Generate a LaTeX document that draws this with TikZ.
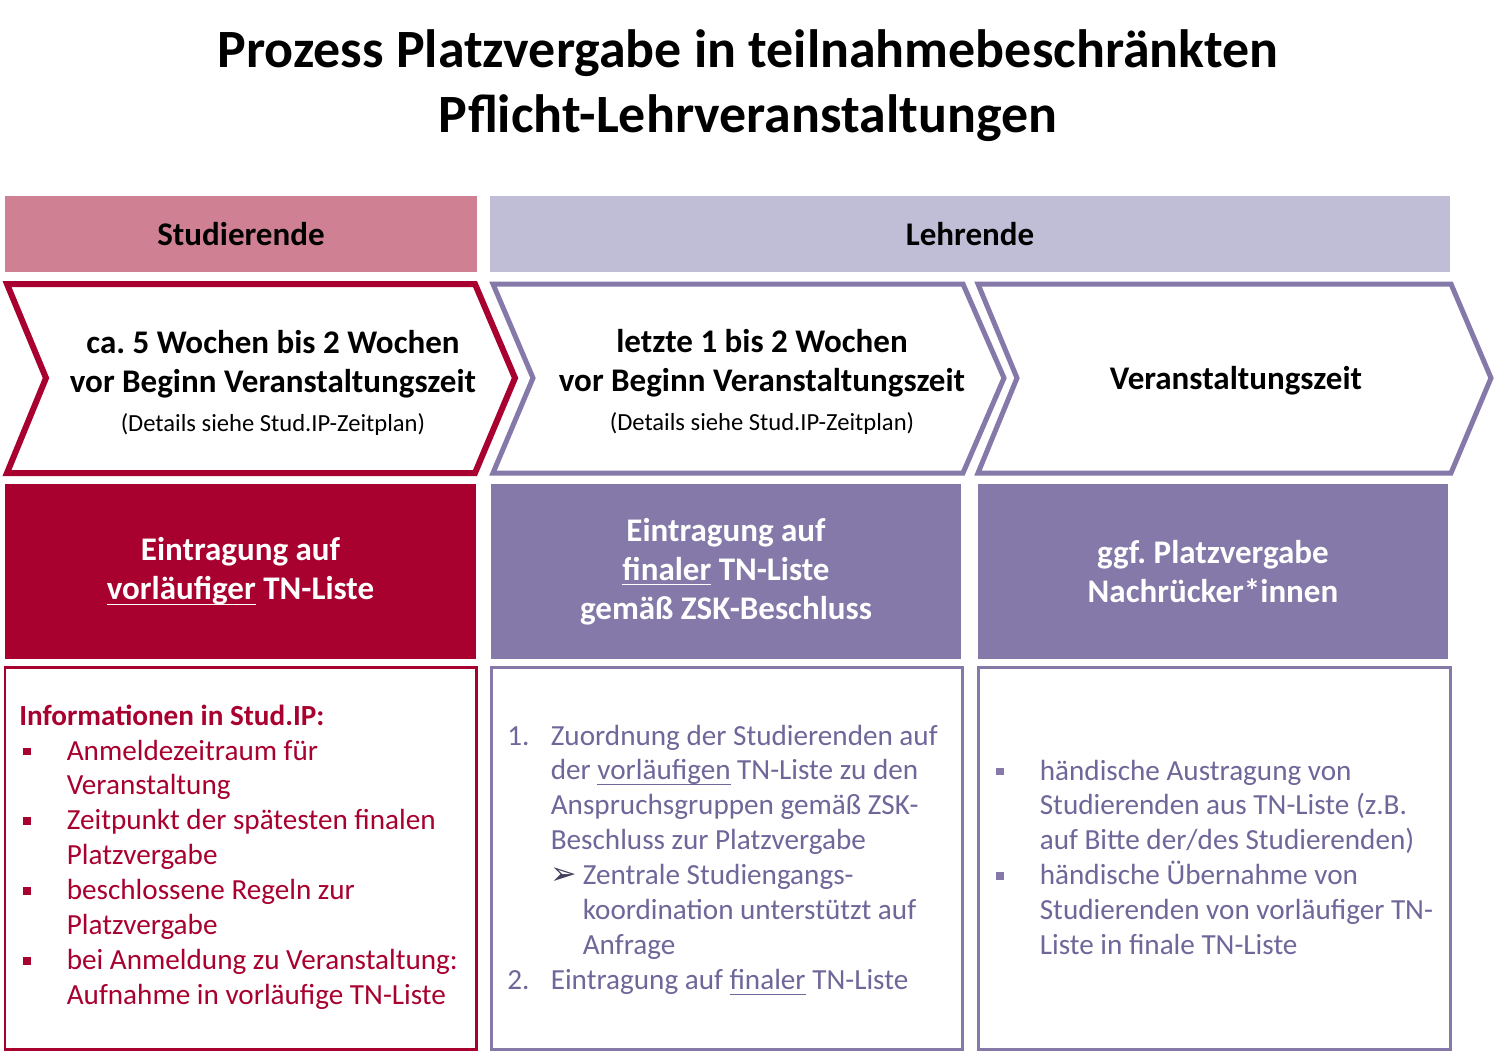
\documentclass[tikz,border=0pt]{standalone}
\usepackage{fontspec}
\setmainfont{Carlito}
\newfontfamily\symfont{DejaVu Sans}
\usepackage{xcolor}
\usepackage{tikz}
\definecolor{cred}{HTML}{A8002F}
\definecolor{cpink}{HTML}{D08093}
\definecolor{clav}{HTML}{C0BDD6}
\definecolor{cpurp}{HTML}{8479A8}
\definecolor{ctxt}{HTML}{6E6799}
\tikzset{
  hdr/.style={inner sep=0pt,minimum height=1.52cm,font=\fontsize{18.8}{22.2}\selectfont\bfseries},
  chev/.style={line width=0.12cm,line join=miter},
  chevtxt/.style={inner sep=0pt,anchor=base,font=\fontsize{18.8}{22.2}\selectfont\bfseries},
  stepbox/.style={inner sep=0pt,minimum width=9.42cm,minimum height=3.5cm,text=white,align=center,font=\fontsize{18.8}{22.2}\selectfont\bfseries},
  infobox/.style={line width=0.06cm},
  lst/.style={inner sep=0pt,anchor=base west,font=\fontsize{16.6}{19.9}\selectfont}
}
\newcommand{\itm}[1]{\makebox[0.87cm][l]{#1}}
\newcommand{\sqb}{\itm{\rule[0.1cm]{0.15cm}{0.15cm}}}
\newcommand{\cnt}{\hspace*{0.87cm}}
\newcommand{\ul}[1]{\underline{\smash{#1}\rule[-1pt]{0pt}{0pt}}}
\frenchspacing

\begin{document}
\begin{tikzpicture}[x=0.02cm,y=-0.02cm]
\useasboundingbox (0,0) rectangle (1497,1052);
\fill[white] (0,0) rectangle (1497,1052);

% ===== title =====
\node[font=\fontsize{30.7}{37}\selectfont\bfseries,inner sep=0pt,anchor=base] (title) at (748,67)
  {\begin{tabular}[t]{@{}c@{}}Prozess Platzvergabe in teilnahmebeschränkten\\Pflicht-Lehrveranstaltungen\end{tabular}};

% ===== role headers =====
\node[hdr,fill=cpink,minimum width=9.44cm] (stud) at (241,234) {Studierende};
\node[hdr,fill=clav,minimum width=19.2cm] (lehr) at (970,234) {Lehrende};

% ===== phase chevrons =====
\draw[chev,cred] (7,284) -- (475,284) -- (515,378) -- (475,473) -- (7,473) -- (46,378) -- cycle;
\draw[chev,cpurp,line width=0.1cm] (493,284) -- (963,284) -- (1004,378) -- (963,473) -- (493,473) -- (533,378) -- cycle;
\draw[chev,cpurp,line width=0.1cm] (978,284) -- (1451,284) -- (1491,378) -- (1451,473) -- (978,473) -- (1017,378) -- cycle;
\node[chevtxt] (phase1) at (273,353) {\begin{tabular}[t]{@{}c@{}}ca. 5 Wochen bis 2 Wochen\\vor Beginn Veranstaltungszeit\\{\fontsize{14}{17}\selectfont\mdseries (Details siehe Stud.IP-Zeitplan)}\end{tabular}};
\node[chevtxt] (phase2) at (762,352) {\begin{tabular}[t]{@{}c@{}}letzte 1 bis 2 Wochen\\vor Beginn Veranstaltungszeit\\{\fontsize{14}{17}\selectfont\mdseries (Details siehe Stud.IP-Zeitplan)}\end{tabular}};
\node[chevtxt] (phase3) at (1236,389) {Veranstaltungszeit};

% ===== step boxes =====
\node[stepbox,fill=cred] (step1) at (240.5,571.5) {Eintragung auf\\\ul{vorläufiger} TN-Liste};
\node[stepbox,fill=cpurp] (step2) at (726,571.5) {Eintragung auf\\\ul{finaler} TN-Liste\\gemäß ZSK-Beschluss};
\node[stepbox,fill=cpurp] (step3) at (1213,571.5) {ggf. Platzvergabe\\Nachrücker*innen};

% ===== detail boxes =====
\draw[infobox,cred] (5,667) rectangle (476,1049);
\draw[infobox,cpurp] (491,667) rectangle (962,1049);
\draw[infobox,cpurp] (978,667) rectangle (1450,1049);

\node[lst,text=cred] (infohead) at (19,725) {\textbf{Informationen in Stud.IP:}};
\node[lst,text=cred] (infolist) at (23,760) {\begin{tabular}[t]{@{}l@{}}
  \sqb Anmeldezeitraum für\\
  \cnt Veranstaltung\\
  \sqb Zeitpunkt der spätesten finalen\\
  \cnt Platzvergabe\\
  \sqb beschlossene Regeln zur\\
  \cnt Platzvergabe\\
  \sqb bei Anmeldung zu Veranstaltung:\\
  \cnt Aufnahme in vorläufige TN-Liste
\end{tabular}};

\node[lst,text=ctxt] (steplist) at (507,745) {\begin{tabular}[t]{@{}l@{}}
  \itm{1.}Zuordnung der Studierenden auf\\
  \cnt der \ul{vorläufigen} TN-Liste zu den\\
  \cnt Anspruchsgruppen gemäß ZSK-\\
  \cnt Beschluss zur Platzvergabe\\
  \cnt\makebox[0.64cm][l]{\color{ctxt!60!black}\symfont\fontsize{18}{20}\selectfont ➢}Zentrale Studiengangs-\\
  \cnt\hspace*{0.64cm}koordination unterstützt auf\\
  \cnt\hspace*{0.64cm}Anfrage\\
  \itm{2.}Eintragung auf \ul{finaler} TN-Liste
\end{tabular}};

\node[lst,text=ctxt] (manlist) at (996,780) {\begin{tabular}[t]{@{}l@{}}
  {\color{cpurp}\sqb}händische Austragung von\\
  \cnt Studierenden aus TN-Liste (z.B.\\
  \cnt auf Bitte der/des Studierenden)\\
  {\color{cpurp}\sqb}händische Übernahme von\\
  \cnt Studierenden von vorläufiger TN-\\
  \cnt Liste in finale TN-Liste
\end{tabular}};

\end{tikzpicture}
\end{document}
